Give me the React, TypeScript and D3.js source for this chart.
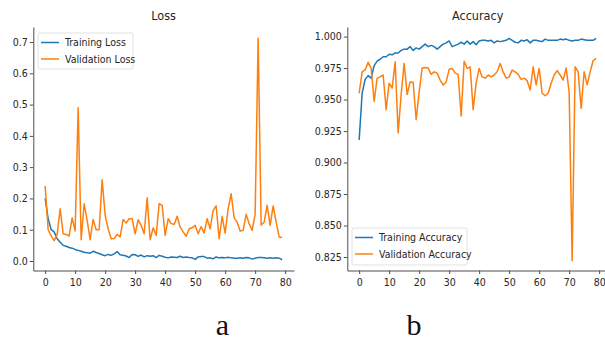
import React, { useRef, useEffect } from 'react';
import * as d3 from 'd3';

const epochs = d3.range(80);

const trainLoss = [
  0.2, 0.135, 0.1, 0.093, 0.071, 0.06, 0.05, 0.047, 0.043, 0.041,
  0.037, 0.034, 0.031, 0.028, 0.026, 0.025, 0.031, 0.027, 0.024, 0.02,
  0.017, 0.021, 0.018, 0.023, 0.03, 0.02, 0.018, 0.016, 0.011, 0.021,
  0.02, 0.015, 0.019, 0.013, 0.017, 0.015, 0.017, 0.011, 0.018, 0.015,
  0.012, 0.01, 0.013, 0.012, 0.011, 0.015, 0.011, 0.013, 0.011, 0.01,
  0.005, 0.013, 0.014, 0.014, 0.009, 0.01, 0.007, 0.013, 0.01, 0.011,
  0.01, 0.012, 0.01, 0.009, 0.009, 0.01, 0.009, 0.011, 0.01, 0.006,
  0.009, 0.011, 0.011, 0.01, 0.009, 0.01, 0.009, 0.01, 0.009, 0.004,
];

const valLoss = [
  0.24, 0.1, 0.08, 0.065, 0.085, 0.167, 0.087, 0.085, 0.08, 0.138,
  0.096, 0.49, 0.068, 0.183, 0.13, 0.068, 0.133, 0.1, 0.1, 0.26,
  0.146, 0.103, 0.071, 0.072, 0.085, 0.077, 0.133, 0.121, 0.135, 0.135,
  0.087, 0.132, 0.114, 0.087, 0.202, 0.068, 0.106, 0.082, 0.183, 0.178,
  0.082, 0.135, 0.12, 0.117, 0.143, 0.108, 0.093, 0.079, 0.103, 0.106,
  0.114, 0.087, 0.11, 0.089, 0.135, 0.103, 0.162, 0.176, 0.071, 0.143,
  0.089, 0.167, 0.215, 0.138, 0.124, 0.096, 0.098, 0.149, 0.119, 0.098,
  0.15, 0.712, 0.115, 0.124, 0.178, 0.114, 0.176, 0.124, 0.077, 0.075,
];

const trainAcc = [
  0.918, 0.955, 0.966, 0.969, 0.967, 0.977, 0.9805, 0.982, 0.984, 0.984,
  0.986, 0.9855, 0.987, 0.987, 0.989, 0.99, 0.99, 0.992, 0.989, 0.991,
  0.99, 0.992, 0.994, 0.992, 0.993, 0.992, 0.99, 0.992, 0.994, 0.995,
  0.9965, 0.992, 0.993, 0.994, 0.9955, 0.994, 0.9965, 0.994, 0.996, 0.9935,
  0.9965, 0.997, 0.997, 0.9965, 0.997, 0.995, 0.9965, 0.996, 0.9965, 0.997,
  0.9985, 0.997, 0.9955, 0.995, 0.997, 0.9965, 0.9975, 0.995, 0.997, 0.997,
  0.9965, 0.996, 0.998, 0.997, 0.997, 0.997, 0.997, 0.998, 0.9975, 0.998,
  0.997, 0.9965, 0.997, 0.997, 0.998, 0.9975, 0.997, 0.997, 0.997, 0.9985,
];

const valAcc = [
  0.955, 0.972, 0.9735, 0.9795, 0.975, 0.9485, 0.967, 0.968, 0.9695, 0.942,
  0.963, 0.959, 0.98, 0.9235, 0.954, 0.9787, 0.954, 0.964, 0.9637, 0.934,
  0.956, 0.975, 0.9755, 0.975, 0.97, 0.972, 0.971, 0.9655, 0.9615, 0.964,
  0.974, 0.9747, 0.971, 0.97, 0.937, 0.9805, 0.9747, 0.976, 0.942, 0.963,
  0.9747, 0.968, 0.967, 0.9695, 0.968, 0.9695, 0.972, 0.9787, 0.972, 0.967,
  0.968, 0.9734, 0.972, 0.97, 0.966, 0.967, 0.965, 0.9576, 0.976, 0.9616,
  0.9747, 0.955, 0.953, 0.955, 0.963, 0.9695, 0.973, 0.9695, 0.9655, 0.975,
  0.956, 0.822, 0.976, 0.972, 0.943, 0.972, 0.9616, 0.972, 0.981, 0.9826,
];

const xTicks = [0, 10, 20, 30, 40, 50, 60, 70, 80];
const lossTicks = [0.0, 0.1, 0.2, 0.3, 0.4, 0.5, 0.6, 0.7];
const accTicks = [0.825, 0.85, 0.875, 0.9, 0.925, 0.95, 0.975, 1.0];

const BLUE = '#1f77b4';
const ORANGE = '#ff7f0e';
const FONT = '"DejaVu Sans Condensed", "DejaVu Sans", sans-serif';

type Panel = {
  title: string;
  xRange: [number, number];
  yDomain: [number, number];
  yTicks: number[];
  yFormat: (v: number) => string;
  train: number[];
  val: number[];
  labels: [string, string];
  legend: { x: number; y: number; w: number; h: number };
};

const panels: Panel[] = [
  {
    title: 'Loss',
    xRange: [33.3, 294],
    yDomain: [-0.0304, 0.748],
    yTicks: lossTicks,
    yFormat: d3.format('.1f'),
    train: trainLoss,
    val: valLoss,
    labels: ['Training Loss', 'Validation Loss'],
    legend: { x: 38, y: 33, w: 95, h: 36 },
  },
  {
    title: 'Accuracy',
    xRange: [347.3, 608],
    yDomain: [0.8143, 1.0076],
    yTicks: accTicks,
    yFormat: d3.format('.3f'),
    train: trainAcc,
    val: valAcc,
    labels: ['Training Accuracy', 'Validation Accuracy'],
    legend: { x: 352, y: 228, w: 115, h: 37 },
  },
];

const App: React.FC = () => {
  const svgRef = useRef<SVGSVGElement>(null);

  useEffect(() => {
    if (!svgRef.current) return;
    const svg = d3.select(svgRef.current);
    svg.selectAll('*').remove();

    const yRange: [number, number] = [270.5, 27];

    panels.forEach((p) => {
      const x = d3.scaleLinear().domain([-3.95, 82.95]).range(p.xRange);
      const y = d3.scaleLinear().domain(p.yDomain).range(yRange);
      const g = svg.append('g');

      const xa = g.append('g')
        .attr('transform', `translate(0,${yRange[0]})`)
        .call(d3.axisBottom(x).tickValues(xTicks).tickSize(3.5).tickSizeOuter(0).tickPadding(4.5));
      const ya = g.append('g')
        .attr('transform', `translate(${p.xRange[0]},0)`)
        .call(d3.axisLeft(y).tickValues(p.yTicks).tickFormat(p.yFormat as any).tickSize(3.5).tickSizeOuter(0).tickPadding(2));

      [xa, ya].forEach((a) => {
        a.select('path.domain').attr('stroke', '#4d4d4d').attr('stroke-width', 1);
        a.selectAll('line').attr('stroke', '#4d4d4d');
        a.selectAll('text')
          .attr('fill', '#262626')
          .style('font-family', FONT)
          .style('font-size', '10.5px');
      });

      g.append('text')
        .attr('x', (p.xRange[0] + p.xRange[1]) / 2)
        .attr('y', 20)
        .attr('text-anchor', 'middle')
        .attr('fill', '#262626')
        .style('font-family', FONT)
        .style('font-size', '12.5px')
        .text(p.title);

      const line = d3.line<number>()
        .x((_, i) => x(epochs[i]))
        .y((d) => y(d));

      [{ data: p.train, color: BLUE }, { data: p.val, color: ORANGE }].forEach(({ data, color }) => {
        g.append('path')
          .datum(data)
          .attr('fill', 'none')
          .attr('stroke', color)
          .attr('stroke-width', 1.5)
          .attr('stroke-linejoin', 'round')
          .attr('d', line);
      });

      // Legend
      const lg = g.append('g').attr('transform', `translate(${p.legend.x},${p.legend.y})`);
      lg.append('rect')
        .attr('width', p.legend.w)
        .attr('height', p.legend.h)
        .attr('rx', 2)
        .attr('fill', 'white')
        .attr('fill-opacity', 0.8)
        .attr('stroke', '#d9d9d9')
        .attr('stroke-width', 0.8);
      [BLUE, ORANGE].forEach((c, i) => {
        const cy = 9.5 + i * 16.5;
        lg.append('line')
          .attr('x1', 3).attr('x2', 21)
          .attr('y1', cy).attr('y2', cy)
          .attr('stroke', c)
          .attr('stroke-width', 1.5);
        lg.append('text')
          .attr('x', 27)
          .attr('y', cy + 3.8)
          .attr('fill', '#262626')
          .style('font-family', FONT)
          .style('font-size', '10.5px')
          .text(p.labels[i]);
      });
    });

    // sub-figure captions
    [['a', 222.5], ['b', 414]].forEach(([t, cx]) => {
      svg.append('text')
        .attr('x', cx as number)
        .attr('y', 335)
        .attr('text-anchor', 'middle')
        .attr('fill', '#111')
        .style('font-family', '"Liberation Serif", "Times New Roman", serif')
        .style('font-size', '30px')
        .text(t as string);
    });
  }, []);

  return (
    <div style={{ position: 'absolute', left: 0, top: 0 }}>
      <svg ref={svgRef} width={605} height={342} style={{ display: 'block', background: 'white' }}></svg>
    </div>
  );
};

export default App;
